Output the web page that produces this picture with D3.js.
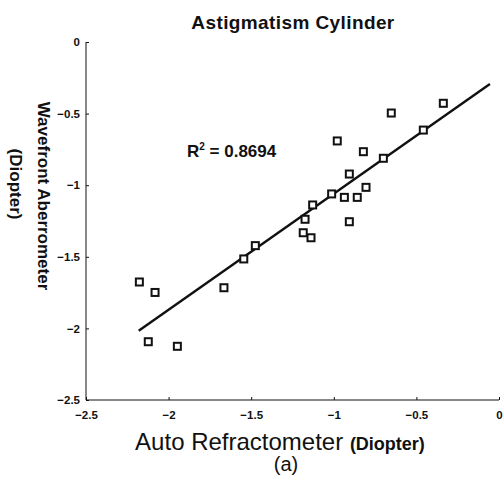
<!DOCTYPE html>
<html><head><meta charset="utf-8">
<script src="https://cdn.jsdelivr.net/npm/d3@7"></script>
<style>body{margin:0;background:#fff}svg{display:block}</style>
</head><body>
<svg id="c" width="504" height="478"></svg>
<script>
// Data (Auto Refractometer x, Wavefront Aberrometer y), diopters
const autoRefractometer = [-0.337,-0.652,-0.458,-0.979,-0.821,-0.700,-0.906,-1.013,-0.936,-0.858,-0.805,-1.128,-1.174,-0.906,-1.185,-1.138,-1.475,-1.545,-1.665,-2.082,-2.177,-2.123,-1.947];
const wavefront = [-0.428,-0.496,-0.615,-0.691,-0.766,-0.812,-0.922,-1.061,-1.085,-1.085,-1.015,-1.138,-1.238,-1.255,-1.332,-1.367,-1.422,-1.515,-1.716,-1.749,-1.676,-2.093,-2.125];
const xTicks = [-2.5,-2,-1.5,-1,-0.5,0];
const yTicks = [0,-0.5,-1,-1.5,-2,-2.5];
const tickLabels = ["−2.5","−2","−1.5","−1","−0.5","0"];
const yTickLabels = ["0","−0.5","−1","−1.5","−2","−2.5"];
const fitSlope = 0.811, fitIntercept = -0.248, fitRange = [-2.181,-0.055];
const r2Label = "0.8694";

const svg = d3.select("#c");
const x = d3.scaleLinear().domain([-2.5,0]).range([86,499]);
const y = d3.scaleLinear().domain([-2.5,0]).range([400,42]);
const ink = "#111";
const ff = "Liberation Sans, Arial, sans-serif";

// axes
const xAxis = d3.axisBottom(x).tickValues(xTicks).tickSize(-3).tickFormat((d,i)=>tickLabels[i]);
const gx = svg.append("g").attr("transform","translate(0,400)").call(xAxis);
const yAxis = d3.axisLeft(y).tickValues(yTicks).tickSize(-3).tickFormat((d,i)=>yTickLabels[i]);
const gy = svg.append("g").attr("transform","translate(86,0)").call(yAxis);
[gx,gy].forEach(g=>{
  g.select(".domain").attr("stroke",ink).attr("stroke-width",1);
  g.selectAll(".tick line").attr("stroke",ink);
  g.selectAll("text").attr("font-family",ff).attr("font-weight","bold").attr("font-size",11.5).attr("fill",ink);
});
gx.select(".domain").attr("d","M86,0H499");
gy.select(".domain").attr("d","M0,400V42");
gx.selectAll(".tick text").attr("dy","0.71em").attr("y",11);
gy.selectAll(".tick text").attr("x",-6);

// fit line
svg.append("line")
  .attr("x1",x(fitRange[0])).attr("y1",y(fitSlope*fitRange[0]+fitIntercept))
  .attr("x2",x(fitRange[1])).attr("y2",y(fitSlope*fitRange[1]+fitIntercept))
  .attr("stroke",ink).attr("stroke-width",2.4);

// points
svg.append("g").selectAll("rect").data(autoRefractometer).join("rect")
  .attr("x",(d)=>x(d)-3.5).attr("y",(d,i)=>y(wavefront[i])-3.5)
  .attr("width",7).attr("height",7)
  .attr("fill","#fff").attr("stroke",ink).attr("stroke-width",2);

// texts
svg.append("text").attr("x",293).attr("y",29).attr("text-anchor","middle")
  .attr("font-family",ff).attr("font-weight","bold").attr("font-size",19).attr("letter-spacing",0.4).attr("fill",ink)
  .text("Astigmatism Cylinder");

const r2 = svg.append("text").attr("x",187).attr("y",157).attr("font-family",ff).attr("font-weight","bold").attr("font-size",17).attr("fill",ink);
r2.append("tspan").text("R");
r2.append("tspan").attr("font-size",10).attr("dy",-7).text("2");
r2.append("tspan").attr("dy",7).text(" = " + r2Label);

const xt = svg.append("text").attr("x",280).attr("y",450).attr("text-anchor","middle").attr("font-family",ff).attr("fill",ink);
xt.append("tspan").attr("font-size",24).text("Auto Refractometer ");
xt.append("tspan").attr("font-size",18).attr("font-weight","bold").text("(Diopter)");

svg.append("text").attr("x",286).attr("y",471).attr("text-anchor","middle").attr("font-family",ff).attr("font-size",20).attr("fill",ink).text("(a)");

const yt = svg.append("g").attr("transform","translate(44,196) rotate(90)");
yt.append("text").attr("text-anchor","middle").attr("y",6).attr("font-family",ff).attr("font-weight","bold").attr("font-size",17).attr("fill",ink).text("Wavefront Aberrometer");
yt.append("text").attr("text-anchor","middle").attr("x",-12).attr("y",34).attr("font-family",ff).attr("font-weight","bold").attr("font-size",17).attr("fill",ink).text("(Diopter)");
</script>
</body></html>
